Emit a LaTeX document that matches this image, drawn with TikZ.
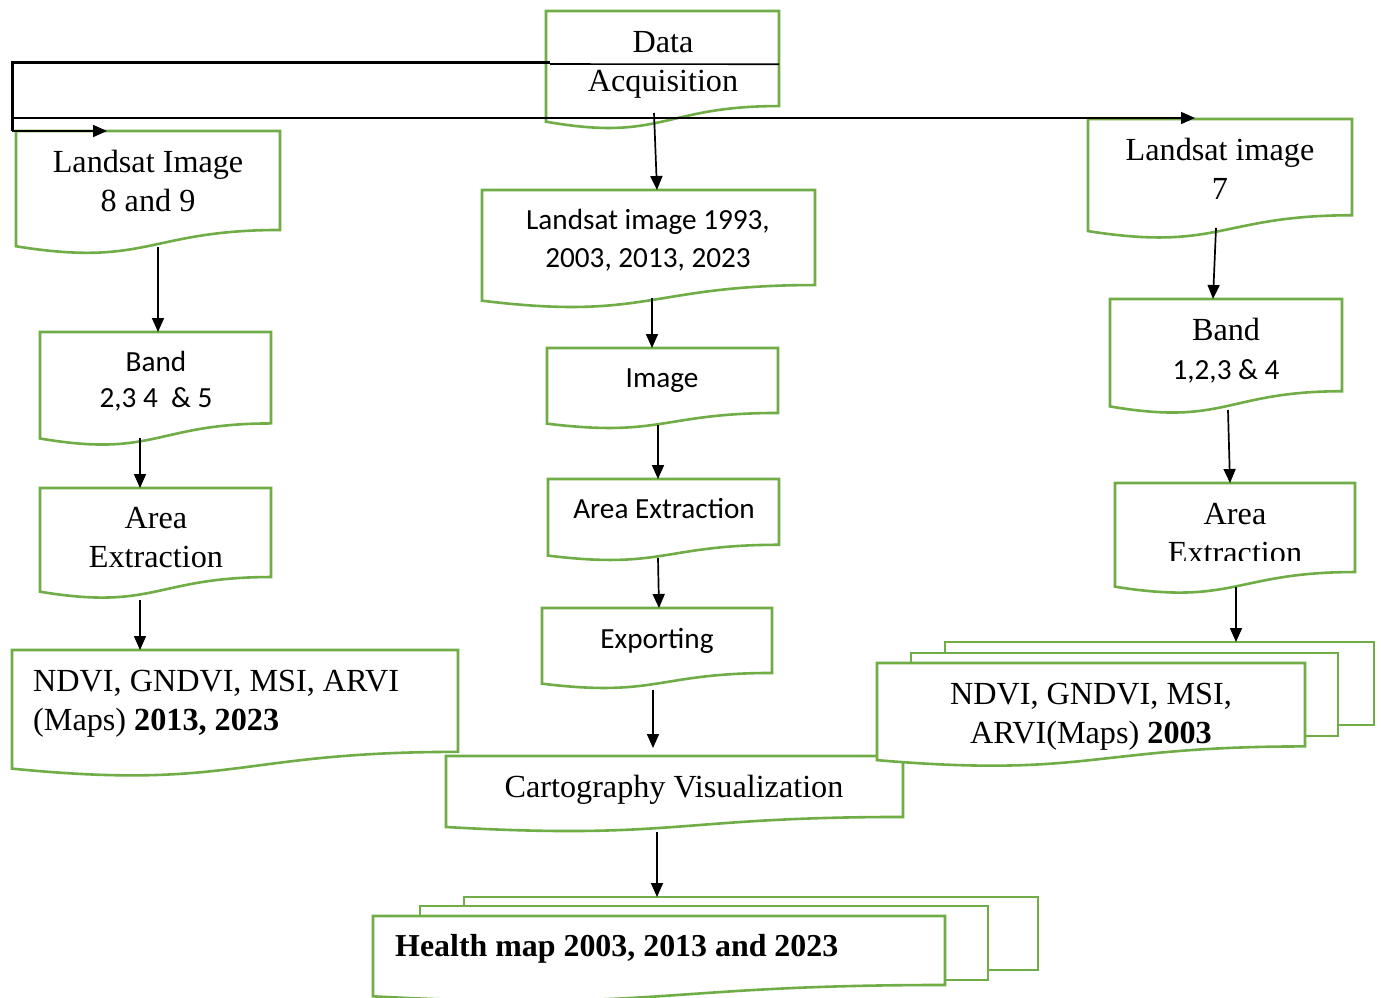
\documentclass[tikz,border=0pt]{standalone}
\usepackage{fontspec}
\setmainfont{Liberation Serif}
\newfontfamily\cbfam{Carlito}
\usetikzlibrary{arrows.meta,calc}
\definecolor{docgreen}{HTML}{70AD47}
\newcommand{\tmf}{\fontsize{32.2}{39}\selectfont}
\newcommand{\tmbf}{\fontsize{31.9}{39}\selectfont\bfseries}
\newcommand{\cbf}{\cbfam\fontsize{29.2}{37}\selectfont}
\tikzset{
  boxshape/.style={draw=none, inner sep=0pt, outer sep=0pt},
  docline/.style={draw=docgreen, line width=2.6pt, fill=white, line join=miter},
  pageshape/.style={draw=docgreen, fill=white, line width=2.6pt, inner sep=0pt, outer sep=0pt},
  txt/.style={inner sep=0pt, align=center, text=black},
  arr/.style={draw=black, line width=1.7pt, -{Triangle[length=14pt,width=12pt]}},
  heavyline/.style={draw=black, line width=3pt, line join=miter},
  thinline/.style={draw=black, line width=1.6pt}
}
% name, x1, top, x2, height
\newcommand{\mkdoc}[5]{%
  \node[boxshape, minimum width={(#4-#2)*1pt}, minimum height={#5*1pt}] (#1) at ({(#2+#4)/2},{#3+#5/2}) {};
  \filldraw[docline] (#1.north west) -- (#1.north east) -- ($(#1.north east)!0.802!(#1.south east)$)
    .. controls ($(#1.north)!0.802!(#1.south)$) and ($(#1.north)!1.107!(#1.south)$) .. ($(#1.north west)!0.934!(#1.south west)$) -- cycle;}
% name, x1, top, x2, bottom
\newcommand{\mkpage}[5]{%
  \node[pageshape, minimum width={(#4-#2)*1pt}, minimum height={(#5-#3)*1pt}] (#1) at ({(#2+#4)/2},{(#3+#5)/2}) {};}
\begin{document}
\begin{tikzpicture}[x=1pt,y=-1pt]
\useasboundingbox[fill=white] (0,0) rectangle (1381,997);

% ---------- boxes ----------
\mkdoc{da}{546}{11}{779}{118.5}
\mkdoc{l89}{16}{131}{280}{123.4}
\mkdoc{l93}{482}{190}{815}{118.5}
\mkdoc{l7}{1088}{119}{1352}{120}
\mkdoc{bandL}{40}{332}{271}{114}
\mkdoc{img}{547}{348}{778}{81}
\mkdoc{bandR}{1110}{299}{1342}{115}
\mkdoc{areaL}{40}{488}{271}{111}
\mkdoc{areaC}{548}{479}{779}{82}
\mkdoc{areaR}{1115}{483}{1355}{111}
\mkdoc{exp}{542}{608}{772}{81}
\mkdoc{ndviL}{12}{650}{458}{127}
\mkdoc{carto}{446}{756}{903}{76}
\mkpage{nb2}{945}{642}{1374}{725}
\mkpage{nb1}{911}{653}{1338}{736}
\mkdoc{ndviR}{877}{663}{1305}{104}
\mkpage{hb2}{464}{897}{1038}{970}
\mkpage{hb1}{420}{906}{988}{980}
\mkdoc{health}{373}{916}{945}{86}

% ---------- top connectors ----------
\coordinate (j1) at (550,62);
\coordinate (j2) at (12,62);
\coordinate (j3) at (12,131);
\coordinate (j4) at (12,118);
\draw[thinline] ([yshift=6pt]da.east) -- (j1 |- {0,64});
\draw[heavyline] (j1) -- (j2) -- (j3);
\draw[arr] (j3) -- ([xshift=91pt]l89.north west);
\draw[arr] (j4) -- ([xshift=107pt,yshift=1pt]l7.north west);

% ---------- arrows ----------
\draw[arr] ([xshift=-8.5pt,yshift=16.5pt]da.south) -- ([xshift=8.5pt]l93.north);
\draw[arr] ([xshift=10pt,yshift=7.4pt]l89.south) -- ([xshift=2.5pt]bandL.north);
\draw[arr] ([xshift=-15.5pt,yshift=8pt]bandL.south) -- ([xshift=-15.5pt]areaL.north);
\draw[arr] ([xshift=-15.5pt,yshift=-1pt]areaL.south) -- ([xshift=128pt]ndviL.north west);
\draw[arr] ([xshift=3.5pt,yshift=10.5pt]l93.south) -- ([xshift=-10.5pt]img.north);
\draw[arr] ([xshift=-4.5pt,yshift=4pt]img.south) -- ([xshift=-5.5pt]areaC.north);
\draw[arr] ([xshift=-5.5pt,yshift=3pt]areaC.south) -- ([xshift=2pt]exp.north);
\draw[arr] ([xshift=-4pt,yshift=-1pt]exp.south) -- ([xshift=-21.5pt,yshift=8pt]carto.north);
\draw[arr] ([xshift=-17.5pt]carto.south) -- ([xshift=193pt]hb2.north west);
\draw[arr] ([xshift=-4pt,yshift=11pt]l7.south) -- ([xshift=-13pt]bandR.north);
\draw[arr] ([xshift=2pt,yshift=4pt]bandR.south) -- ([xshift=-5pt]areaR.north);
\draw[arr] ([xshift=1pt,yshift=7pt]areaR.south) -- ([xshift=76.5pt]nb2.north);

% ---------- texts ----------
\node[txt, font=\tmf] (da-t) at (663,64.9) {Data\\Acquisition};
\node[txt, font=\tmf] (l89-t) at (148,181.2) {Landsat Image\\8 and 9};
\node[txt, font=\cbf] (l93-t) at (648,240) {Landsat image 1993,\\[1pt]2003, 2013, 2023};
\node[txt, font=\tmf] (l7-t) at (1220,169.2) {Landsat image\\7};
\node[txt, font=\cbf] (bandL-t) at (156,381) {Band\\[-1pt]2,3 4\ \ \& 5};
\node[txt, font=\cbf] (img-t) at (662,380.8) {Image};
\node[txt, font=\tmf] (bandR-t) at (1226,350.4) {Band\\{\cbf 1,2,3 \& 4}};
\begin{scope}
  \clip (0,480) rectangle (400,567);
  \node[txt, font=\tmf] (areaL-t) at (156,537.4) {Area\\Extraction};
\end{scope}
\node[txt, font=\cbf] (areaC-t) at (664,509) {Area Extraction};
\begin{scope}
  \clip (1000,470) rectangle (1381,560);
  \node[txt, font=\tmf] (areaR-t) at (1235,533.4) {Area\\Extraction};
\end{scope}
\node[txt, font=\cbf] (exp-t) at (657,640.8) {Exporting};
\node[txt, font=\tmf, align=left, anchor=west] (ndviL-t) at (33,703.9) {NDVI, GNDVI, MSI, ARVI\\(Maps) \textbf{2013, 2023}};
\node[txt, font=\tmf] (ndviR-t) at (1091,716.9) {NDVI, GNDVI, MSI,\\ARVI(Maps) \textbf{2003}};
\node[txt, font=\tmf] (carto-t) at (674,790) {Cartography Visualization};
\node[txt, font=\tmbf, anchor=west] (health-t) at (395,949) {Health map 2003, 2013 and 2023};
\end{tikzpicture}
\end{document}
